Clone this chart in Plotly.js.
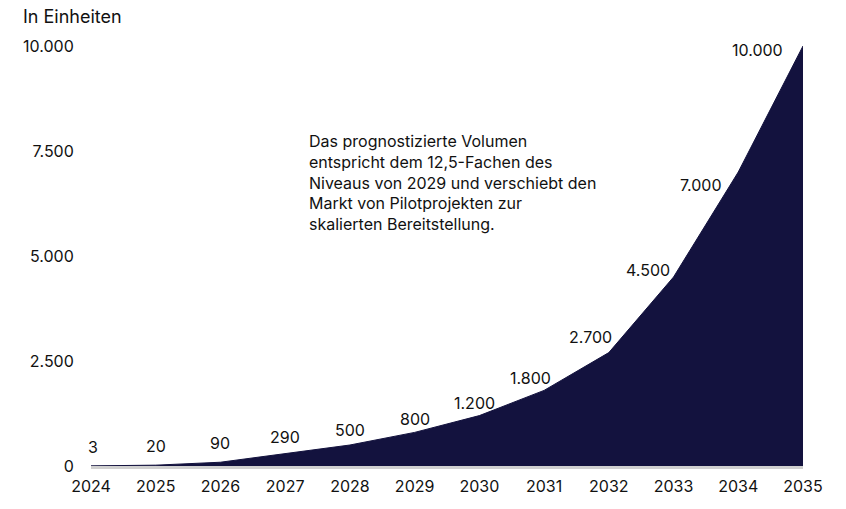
<!DOCTYPE html>
<html><head><meta charset="utf-8">
<script src="https://cdn.plot.ly/plotly-3.0.1.min.js"></script>
<style>html,body{margin:0;padding:0;background:#fff}#chart{width:846px;height:509px}</style>
</head><body><div id="chart"></div>
<script>
const years = [2024,2025,2026,2027,2028,2029,2030,2031,2032,2033,2034,2035];
const units = [3,20,90,290,500,800,1200,1800,2700,4500,7000,10000];
const yTicks = [0,2500,5000,7500,10000];
const yTickLabels = ['0','2.500','5.000','7.500','10.000'];
const unitTitle = 'In Einheiten';
const noteText = 'Das prognostizierte Volumen<br>entspricht dem 12,5-Fachen des<br>Niveaus von 2029 und verschiebt den<br>Markt von Pilotprojekten zur<br>skalierten Bereitstellung.';

// label placement (style only)
const labelAx = [2,0,0,0,0,0,-5,-14,-18,-2,-14,-18];
const labelAy = [-19,-19,-19,-17,-15,-13,-13,-12,-16,-7,13,4];
const labelAnchor = ['center','center','center','center','center','center','center','center','center','right','right','right'];

const fmt = v => String(v).replace(/\B(?=(\d{3})+(?!\d))/g,'.');
const FONT = 'Inter, Roboto, sans-serif';
const NAVY = '#13123e';

const annotations = years.map((y,i)=>({
  x:y, y:units[i], xref:'x', yref:'y', text:fmt(units[i]), showarrow:true,
  arrowcolor:'rgba(0,0,0,0)', arrowwidth:0.1, ax:labelAx[i], ay:labelAy[i],
  xanchor:labelAnchor[i], yanchor:'middle', font:{family:FONT,size:16,color:'#111'}
}));
annotations.push({xref:'paper',yref:'paper',x:-0.099,y:1.071,xanchor:'left',yanchor:'middle',
  text:unitTitle,showarrow:false,font:{family:FONT,size:18,color:'#111'}});
annotations.push({xref:'paper',yref:'paper',x:0.304,y:0.675,xanchor:'left',yanchor:'middle',align:'left',
  text:noteText,showarrow:false,font:{family:FONT,size:16,color:'#111'}});

Plotly.newPlot('chart',[{
  x:years, y:units, type:'scatter', mode:'lines', fill:'tozeroy',
  fillcolor:NAVY, line:{color:NAVY,width:1}, hoverinfo:'skip'
}],{
  width:846,height:509,
  margin:{l:91,r:43,t:46,b:43},
  paper_bgcolor:'#fff',plot_bgcolor:'#fff',
  showlegend:false,
  xaxis:{range:[2024,2035],tickvals:years,ticktext:years.map(String),showgrid:false,zeroline:false,
    showline:true,linecolor:'#d0d0d0',linewidth:3,ticks:'outside',ticklen:4,tickcolor:'rgba(0,0,0,0)',
    tickfont:{family:FONT,size:16,color:'#111'}},
  yaxis:{range:[0,10000],tickvals:yTicks,ticktext:yTickLabels,showgrid:false,zeroline:false,showline:false,
    ticks:'outside',ticklen:13,tickcolor:'rgba(0,0,0,0)',tickfont:{family:FONT,size:16,color:'#111'}},
  annotations:annotations
},{displayModeBar:false,staticPlot:true});
</script></body></html>
